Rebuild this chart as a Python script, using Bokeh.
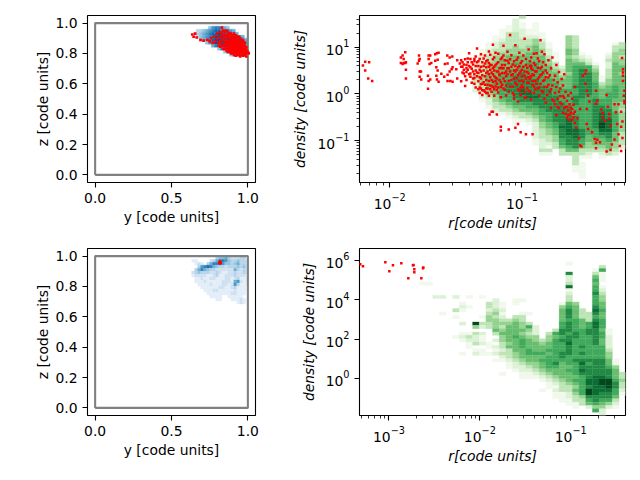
from bokeh.plotting import figure
from bokeh.layouts import column, row
from bokeh.models import FixedTicker, Range1d, ColumnDataSource
from bokeh.embed import file_html
from bokeh.resources import INLINE

GREENS = ["#f0f9ec", "#dcf2d6", "#bde5b6", "#94d390", "#68bd6f", "#40aa5d", "#228a44", "#0b6e33", "#00491d"]
BLUES = ["#e3eef9", "#cfe1f2", "#b5d4e9", "#93c4de", "#6aaed6", "#4a98c9", "#2e7ebc", "#1764ab", "#08468b"]
box_x = [0, 1, 1, 0, 0]
box_y = [0, 0, 1, 1, 0]

# top right histogram: (first bin, digit per bin), rows from high to low density
tr_rows = [
    (24, "3"), (23, "2"), (23, "21.1"), (22, "121.1"), (21, "112211"), (21, "1332111"),
    (20, "11332221...43"), (20, "12333342...43"), (19, "1233333431..43.....13"),
    (19, "1233434531..43.....33"), (18, "12334444542..54.....34"), (18, "123444455421.541...144"),
    (17, "1234455555531.4321..243"), (17, "1234555555541.5432..344"),
    (16, "11244556566543.55531.254"), (17, "2345555666553256663.255"),
    (17, "23455666666543" + "56764" + ".355"), (17, "23556667666553" + "46775" + ".354"),
    (16, "134556677766554" + "567751355"), (16, "134566677776655" + "567751455"),
    (17, "24566777776665" + "567763455"), (17, "23566777777665" + "577764565"),
    (17, "23456778777766" + "667765565"), (18, "2456678877766" + "667765665"),
    (18, "2346677887776" + "677665665"), (18, "1245667777776" + "676676655"),
    (19, "234566677777" + "676676654"), (19, "133455667777" + "766677654"),
    (20, "23345556777" + "766677753"), (20, "11233456677" + "766678764"),
    (22, "123345677" + "776678764"), (23, "11235677" + "876678864"),
    (23, "1.124567" + "876679864"), (26, "24568" + "876679864"),
    (26, "23457" + "887668864"), (26, "23457" + "887667753"),
    (26, "23347" + "787566753"), (26, "12346" + "776555653"),
    (26, "12236" + "776455543"), (27, "2135" + "675444542"),
    (27, "33.3" + "55333343"), (27, "11.3" + "3332.232"),
    (32, "311.1"), (32, "3"), (32, "31"), (32, "11"), (32, "11"), (33, "1"), (33, "1"),
]
tr_x0, tr_dx, tr_y_top, tr_dy = -2.229, 0.0503, 1.677, 0.0712

# bottom right histogram
br_rows = [
    (0, ""), (0, ""), (0, ""), (0, ""), (31, "1"),
    (36, "3"), (35, "16"), (31, "7...31"), (31, "2...51"), (31, "2...61"),
    (9, "11" + "." * 20 + "3...5"), (31, "8...61"), (31, "1...62"), (31, "2...73"),
    (11, "22.2.1.1" + "." * 12 + "3...64"), (20, "2..11......3...64"),
    (15, "1...321.1......154..65"), (15, "21..321........465..75"),
    (14, "31...232........5753.86"), (12, "1......341..11....5753375"),
    (14, "1...1432.33.....5753365"), (19, "443343" + "....." + "5665376"),
    (15, "2.933444543" + "...." + "6765686"), (17, "4234355462" + "..." + "6765686"),
    (20, "5455542" + ".." + "377667751"), (15, "1132.3555432.3" + "676767761"),
    (14, "12321..456544.4" + "567766762"), (15, "1221.245565434" + "677666752"),
    (16, "1321.34565545" + "668666752"), (16, "1..1235565555" + "667676662"),
    (17, "11.123556556" + "667666663"), (15, "1.211233456665" + "677676664"),
    (21, "23455556" + "676666664"), (20, "112345566" + "6667777751"),
    (22, "1234456" + "7566867751"), (22, "1223456" + "6556777764"),
    (23, "122345" + "5566877775"), (21, "1..11234" + "55567777753"),
    (24, "11123" + "45556788753"), (27, "12" + "34566889964"),
    (28, "1" + "23456889973"), (28, "1" + "13346788973"),
    (27, "1." + "23356988862"), (29, "11246987761"), (29, "1123477775"),
    (30, "113367663"), (31, "11356542"), (32, "1.24421"), (35, "62"), (36, "2"),
]
br_x0, br_dx, br_y_top, br_dy = -3.324, 0.0732, 6.595, 0.1695

# top left projection
tl_rows = [
    (5, "4677654"), (1, "3345678877765"), (0, "234567889988765"),
    (1, "3456789999988775"), (2, "3567899999988875"), (4, "46899999988886"),
    (6, "578999888876"), (8, "4778888876"), (10, "46777776"), (12, "456665"),
]
tl_x0, tl_dx, tl_y_top, tl_dy = 0.6425, 0.0197, 0.98, 0.0199

# bottom left projection
bl_rows = [
    (8, "3445322233"), (0, "11....2357764334332"), (1, "121.35778644345332"),
    (2, "36787543323334342"), (1, "357543322222253232"),
    (0, "2343332232112232232"), (0, "1222211231122232221"),
    (1, "112112211122123111"), (1, "111211111222156211"),
    (2, "11112111221263111"), (3, "111111221123111"),
    (4, "11122111112111"), (5, "1111111122111"), (6, "1111..11111"), (8, "11...11121"), (15, "121"),
]
bl_x0, bl_dx, bl_y_top, bl_dy = 0.632, 0.0197, 0.9995, 0.0197

# red points
tr_red = [
    (-2.203,.61),(-2.186,.69),(-2.156,.68),(-2.186,.50),(-2.163,.33),(-2.133,.28),
    (-1.916,.78),(-1.903,.82),(-1.895,.75),(-1.883,.89),(-1.916,.66),(-1.895,.66),(-1.883,.66),(-1.903,.64),(-1.878,.68),(-1.878,.52),(-1.878,.33),
    (-1.789,.65),(-1.779,.82),(-1.774,.75),(-1.779,.71),(-1.774,.48),(-1.764,.48),(-1.774,.37),(-1.762,.31),
    (-1.706,.82),(-1.694,.82),(-1.706,.75),(-1.686,.66),(-1.699,.64),(-1.711,.39),(-1.694,.31),(-1.706,.28),(-1.711,.11),
    (-1.656,.85),(-1.643,.87),(-1.631,.88),(-1.656,.71),(-1.638,.73),(-1.648,.57),(-1.638,.50),(-1.648,.39),(-1.631,.26),(-1.643,.31),
    (-1.565,.82),(-1.547,.78),(-1.583,.64),(-1.563,.65),(-1.527,.80),(-1.61,.43),(-1.547,.48),(-1.563,.41),(-1.588,.37),(-1.563,.28),(-1.542,.28),(-1.525,.26),(-1.525,.57),(-1.532,.53),(-1.497,.53),
    (-1.49,.72),(-1.47,.65),(-1.45,.58),(-1.44,.44),(-1.49,.33),(-1.46,.27),(-1.43,.17),(-1.42,.62),(-1.40,.87),(-1.41,.52),(-1.39,.37),(-1.38,.24),(-1.36,.70),(-1.36,.42),(-1.35,.14),(-1.34,.97),(-1.33,.60),(-1.32,.52),(-1.31,.33),(-1.31,.21),(-1.30,.08),
    (-1.29,.76),(-1.28,.65),(-1.27,.45),(-1.27,.12),(-1.26,.02),(-1.25,.91),(-1.25,.58),(-1.24,.36),(-1.23,.17),(-1.22,1.05),(-1.22,.74),(-1.21,.50),(-1.21,-.04),(-1.20,.27),(-1.19,.65),(-1.19,.09),(-1.18,.86),(-1.17,.42),(-1.16,.56),(-1.16,-.07),(-1.15,.20),(-1.15,.78),(-1.14,1.03),(-1.14,.33),(-1.13,.62),(-1.13,.09),(-1.12,.48),(-1.12,-.03),
    (-1.11,.90),(-1.11,.71),(-1.10,.28),(-1.10,.55),(-1.09,1.26),(-1.09,.16),(-1.08,.83),(-1.08,.40),(-1.07,.02),(-1.07,.63),(-1.06,.50),(-1.06,-.10),(-1.05,1.04),(-1.05,.24),(-1.04,.73),(-1.04,.34),(-1.03,.57),(-1.03,.10),(-1.02,.88),(-1.02,.44),(-1.01,.66),(-1.01,-.02),(-1.00,.29),(-1.00,.52),(-.99,.82),(-.99,.14),(-.98,1.18),(-.98,.39),(-.97,.62),(-.97,-.08),(-.96,.24),(-.96,.47),(-.95,.95),(-.95,.07),(-.94,.70),(-.94,.33),(-.93,.55),(-.93,-.12),(-.92,.19),(-.92,.42),(-.91,.86),(-.91,.02),(-.90,.62),(-.90,.28),(-.89,.48),(-.88,.12),(-.88,.76),(-.87,.36),(-.87,-.04),(-.86,.55),(-.86,.22),(-.85,.90),(-.85,.42),(-.84,.04),(-.84,.68),(-.83,.30),(-.82,.50),(-.82,-.18),(-.81,.15),
    (-1.22,-.38),(-1.245,-.44),(-1.23,-.38),(-1.19,-.44),(-1.16,-.70),(-1.16,-.78),(-1.10,-.76),(-1.05,-.72),(-1.03,-.64),(-1.01,-.82),(-.97,-.86),(-.92,-.86),(-1.06,-.02),(-1.03,-.16),(-1.02,.07),(-1.00,.18),(-.98,-.08),(-.95,.36),(-.93,.60),(-.91,.16),
    (-.86,1.15),(-.89,.87),(-.83,.85),(-.80,.72),(-.80,.35),(-.79,.05),(-.78,-.30),(-.78,.55),(-.77,.18),(-.77,.78),(-.76,-.15),(-.75,.39),(-.75,.02),(-.74,.62),(-.74,-.45),(-.73,.25),(-.73,-.10),(-.72,.47),(-.72,-.30),(-.71,.12),(-.71,-.05),(-.70,.32),(-.70,-.22),(-.69,.18),(-.69,-.40),(-.68,-.08),(-.68,.42),(-.67,-.28),(-.67,.05),(-.66,-.15),(-.66,-.50),(-.65,-.03),(-.65,-.35),(-.64,-.22),(-.64,-.45),(-.63,.02),(-.63,-.30),(-.62,-.10),(-.62,-.55),(-.61,-.42),(-.61,-.23),(-.60,.15),(-.60,-.62),(-.59,-.72),(-.58,-.52),(-.57,-.95),(-.56,-1.10),(-.55,-1.12),
    (-.515,.50),(-.52,.43),(-.52,.22),(-.54,.39),(-.51,.07),(-.44,.07),(-.50,-.04),(-.49,-.16),(-.51,-.32),(-.56,-.32),(-.44,-.21),(-.43,-.14),(-.51,-.64),(-.50,-.75),(-.47,-.82),(-.45,-.96),(-.44,-1.04),(-.43,-.98),(-.41,-1.03),(-.44,-1.16),(-.40,-.33),(-.39,-.41),(-.39,-.51),(-.37,-.57),(-.36,-.02),(-.35,-.27),(-.34,-.43),(-.34,-.53),(-.33,-.68),(-.32,-1.08),(-.36,-1.23),(-.33,-1.19),(-.30,-.22),(-.29,-.39),(-.28,-.64),(-.27,-.86),(-.26,-1.11),(-.25,-1.22),(-.24,-.94),(-.30,-.97),(-.27,-.22),(-.25,-.38),(-.243,.77),(-.236,.53),(-.236,.46),(-.236,.39),(-.236,.28),(-.225,.07),(-.23,-.04),(-.225,-.20),(-.225,-.15),(-.24,-.59),(-.25,-.70),
    # second reading of the crowded centre
    (-1.46,.58),(-1.45,.68),(-1.44,.52),(-1.43,.74),(-1.42,.47),(-1.42,.30),(-1.41,.68),(-1.40,.60),(-1.39,.44),(-1.39,.75),(-1.38,.54),(-1.37,.33),(-1.37,.63),(-1.36,.22),(-1.35,.50),(-1.35,.80),(-1.34,.38),(-1.34,.68),(-1.33,.27),(-1.33,.45),(-1.32,.75),(-1.32,.14),(-1.31,.58),(-1.31,.85),(-1.30,.40),(-1.30,.68),(-1.29,.25),(-1.29,.50),(-1.28,.82),(-1.28,.05),(-1.27,.57),(-1.27,.30),(-1.26,.72),(-1.26,.20),(-1.25,.42),(-1.25,.66),(-1.24,.10),(-1.24,.52),(-1.24,.84),(-1.23,.30),(-1.23,.62),(-1.22,.42),(-1.22,.15),(-1.21,.78),(-1.21,.58),(-1.20,.35),(-1.20,.88),(-1.19,.48),(-1.19,.22),(-1.18,.68),(-1.18,.03),(-1.17,.55),(-1.17,.30),(-1.16,.75),(-1.16,.15),(-1.15,.45),(-1.15,.62),(-1.14,.82),(-1.14,.55),(-1.13,.27),(-1.13,.72),(-1.12,.38),(-1.12,.18),(-1.11,.55),(-1.11,.42),(-1.10,.66),(-1.10,.05),(-1.09,.48),(-1.09,.74),(-1.08,.30),(-1.08,.58),(-1.07,.42),(-1.07,.16),(-1.06,.70),(-1.06,.33),(-1.05,.48),(-1.05,.60),(-1.04,.20),(-1.04,.52),(-1.03,.40),(-1.03,.78),(-1.02,.28),(-1.02,.60),(-1.01,.48),(-1.01,.14),(-1.00,.38),(-1.00,.70),(-.99,.58),(-.99,.26),(-.98,.48),(-.98,.04),(-.97,.33),(-.97,.75),(-.96,.56),(-.96,.13),(-.95,.44),(-.95,.24),(-.94,.60),(-.94,.05),(-.93,.38),(-.93,.78),(-.92,.52),(-.92,.28),(-.91,.66),(-.91,.40),(-.90,.10),(-.90,.48),(-.89,.22),(-.88,.56),(-.88,.32),(-.87,.70),(-.87,.14),(-.86,.40),(-.85,.06),(-.85,.58),(-.84,.28),(-.84,.46),(-.83,.15),(-.83,-.10),(-.82,.36),(-.82,.62),(-.81,-.02),(-.81,.45),(-.80,.20),(-.79,.40),(-.78,.10),(-.77,-.12),(-.76,.30),(-.75,-.22),(-.74,.15),(-.73,-.28),(-.72,.05),(-.71,-.18),(-.69,-.05),(-.68,-.30),(-.67,-.42),(-.66,-.28),(-.65,-.45),(-.64,-.55),(-.63,-.40),(-.62,-.32),(-.61,-.50),(-.60,-.38),
    # left cluster
    (-1.46,.72),(-1.45,.46),(-1.44,.63),(-1.43,.38),(-1.42,.55),(-1.41,.76),(-1.40,.42),(-1.39,.57),(-1.38,.68),(-1.37,.48),(-1.36,.75),(-1.36,.34),(-1.35,.60),(-1.34,.46),(-1.33,.70),(-1.33,.10),(-1.32,.36),(-1.32,.02),(-1.31,.48),(-1.31,.12),(-1.30,.22),(-1.30,-.02),(-1.29,.60),(-1.29,.08),(-1.28,.38),(-1.28,.20),(-1.27,.02),(-1.27,.70),(-1.26,.48),(-1.26,.12),(-1.25,.28),(-1.25,-.04),(-1.24,.62),(-1.24,.18),(-1.23,.46),(-1.23,.05),(-1.22,.26),(-1.22,.55),(-1.21,.10),(-1.21,.38),(-1.20,.16),(-1.20,.62),(-1.19,.33),(-1.18,.48),(-1.18,.14),(-1.17,.40),(-1.16,.25),(-1.15,.55),(-1.14,.12),(-1.13,.45),
]
br_red_logr = [-3.316, -3.286, -3.04, -2.996, -2.956, -2.864, -2.787, -2.736, -2.730, -2.721, -2.721, -2.644, -2.622, -2.626]
br_red_logd = [5.80, 5.69, 5.90, 5.44, 5.75, 5.85, 5.08, 5.75, 5.76, 5.54, 5.39, 5.08, 5.63, 5.59]
tl_red = [
    (.636,.925),(.645,.91),(.655,.93),(.665,.905),(.69,.89),(.71,.885),(.735,.89),(.75,.88),(.76,.90),(.77,.87),(.78,.91),(.785,.88),
    (.80,.93),(.80,.90),(.81,.87),(.81,.85),(.82,.94),(.82,.91),(.82,.88),(.82,.845),(.83,.97),(.83,.93),(.83,.90),(.83,.86),(.84,.95),(.84,.92),(.84,.89),(.84,.85),(.84,.83),(.85,.94),(.85,.91),(.85,.88),(.85,.86),(.85,.83),
    (.86,.95),(.86,.92),(.86,.89),(.86,.86),(.86,.84),(.86,.82),(.87,.94),(.87,.91),(.87,.88),(.87,.85),(.87,.83),(.87,.81),(.88,.93),(.88,.90),(.88,.87),(.88,.85),(.88,.83),(.88,.81),(.89,.93),(.89,.91),(.89,.88),(.89,.86),(.89,.84),(.89,.82),(.89,.80),
    (.90,.92),(.90,.90),(.90,.88),(.90,.86),(.90,.84),(.90,.82),(.90,.80),(.91,.93),(.91,.91),(.91,.89),(.91,.87),(.91,.85),(.91,.83),(.91,.81),(.91,.79),(.92,.92),(.92,.90),(.92,.88),(.92,.86),(.92,.84),(.92,.82),(.92,.80),(.92,.785),
    (.93,.91),(.93,.89),(.93,.87),(.93,.85),(.93,.83),(.93,.81),(.93,.79),(.94,.91),(.94,.89),(.94,.87),(.94,.85),(.94,.83),(.94,.81),(.94,.79),(.95,.90),(.95,.88),(.95,.86),(.95,.84),(.95,.82),(.95,.80),(.95,.78),
    (.96,.89),(.96,.87),(.96,.85),(.96,.83),(.96,.81),(.96,.79),(.97,.885),(.97,.86),(.97,.84),(.97,.82),(.97,.80),(.97,.785),(.98,.87),(.98,.85),(.98,.83),(.98,.81),(.98,.79),(.99,.84),(.99,.82),(.99,.80),(.99,.78),(1.0,.81),(1.005,.80),
    (.885,.895),(.875,.925),(.865,.875),(.895,.87),(.905,.895),(.915,.855),(.925,.875),(.935,.825),(.945,.845),(.955,.815),(.965,.835),(.975,.805),(.915,.815),(.905,.835),(.935,.795),(.945,.805),(.895,.825),(.885,.815),
]
bl_red_x = [.812, .818, .824, .812, .818, .824, .815, .821]
bl_red_y = [.953, .953, .953, .959, .959, .959, .965, .965]

TICK_PT = "13.9px"


def style(p):
    p.outline_line_color = "black"
    p.outline_line_width = 1.1
    p.grid.visible = False
    for ax in (p.xaxis[0], p.yaxis[0]):
        ax.axis_label_text_font = "DejaVu Sans"
        ax.axis_label_text_font_size = TICK_PT
        ax.axis_label_text_color = "black"
        ax.axis_label_text_font_style = "normal"
        ax.major_label_text_font = "DejaVu Sans"
        ax.major_label_text_font_size = TICK_PT
        ax.major_label_text_color = "black"
        ax.major_tick_line_color = "black"
        ax.major_tick_line_width = 1.1
        ax.major_tick_in = 0
        ax.major_tick_out = 5
        ax.minor_tick_line_color = "black"
        ax.minor_tick_line_width = 0.8
        ax.minor_tick_in = 0
        ax.minor_tick_out = 3
        ax.axis_line_color = None


def cells(rows, x0, dx, y_top, dy, palette, log):
    left, right, top, bottom, color = [], [], [], [], []
    for r, (start, digits) in enumerate(rows):
        for i, ch in enumerate(digits):
            if ch == ".":
                continue
            xa, xb = x0 + (start + i) * dx, x0 + (start + i + 1) * dx
            yb, ya = y_top - r * dy, y_top - (r + 1) * dy
            if log:
                xa, xb, ya, yb = 10 ** xa, 10 ** xb, 10 ** ya, 10 ** yb
            left.append(xa); right.append(xb); top.append(yb); bottom.append(ya)
            color.append(palette[int(ch) - 1])
    return ColumnDataSource(dict(left=left, right=right, top=top, bottom=bottom, color=color))


def projection(rows, grid, red_x, red_y, top_b, size):
    p = figure(frame_width=168, frame_height=167, output_backend="svg", toolbar_location=None,
               x_range=Range1d(-0.05, 1.05), y_range=Range1d(-0.05, 1.05),
               min_border_left=87, min_border_right=10, min_border_top=top_b, min_border_bottom=56)
    style(p)
    p.quad(left="left", right="right", top="top", bottom="bottom", fill_color="color", line_color="color",
           line_width=0.3, source=cells(rows, *grid, BLUES, False))
    p.line(box_x, box_y, line_color="gray", line_width=2.1)
    p.scatter(red_x, red_y, marker="square", size=size, fill_color="red", line_color=None)
    p.xaxis.axis_label = "y [code units]"
    p.yaxis.axis_label = "z [code units]"
    p.xaxis.axis_label_standoff = 3
    p.yaxis.axis_label_standoff = 1
    p.xaxis.ticker = FixedTicker(ticks=[0, 0.5, 1])
    p.yaxis.ticker = FixedTicker(ticks=[0, 0.2, 0.4, 0.6, 0.8, 1.0])
    p.xaxis.major_label_overrides = {0: "0.0", 0.5: "0.5", 1: "1.0"}
    p.yaxis.major_label_overrides = {0: "0.0", 1: "1.0"}
    return p


def decades(lo, hi):
    return [m * 10.0 ** e for e in range(lo, hi) for m in range(2, 10)]


def profile(xr, yr, rows, grid, red_x, red_y, top_b, xticks, yticks, yminor):
    p = figure(frame_width=266, frame_height=167, output_backend="svg", toolbar_location=None,
               x_axis_type="log", y_axis_type="log",
               x_range=Range1d(10 ** xr[0], 10 ** xr[1]), y_range=Range1d(10 ** yr[0], 10 ** yr[1]),
               min_border_left=94, min_border_right=7, min_border_top=top_b, min_border_bottom=56)
    style(p)
    p.quad(left="left", right="right", top="top", bottom="bottom", fill_color="color", line_color="color",
           line_width=0.3, source=cells(rows, *grid, GREENS, True))
    p.scatter(red_x, red_y, marker="square", size=2.5, fill_color="red", line_color=None)
    p.xaxis.axis_label = "r[code units]"
    p.yaxis.axis_label = "density [code units]"
    p.xaxis.axis_label_text_font_style = "italic"
    p.yaxis.axis_label_text_font_style = "italic"
    p.xaxis.axis_label_standoff = 3
    p.yaxis.axis_label_standoff = 6
    p.xaxis.ticker = FixedTicker(ticks=xticks, minor_ticks=decades(-4, 1))
    p.yaxis.ticker = FixedTicker(ticks=yticks, minor_ticks=yminor)
    return p


tl = projection(tl_rows, (tl_x0, tl_dx, tl_y_top, tl_dy),
                [a for a, _ in tl_red], [b for _, b in tl_red], 15, 2.7)
bl = projection(bl_rows, (bl_x0, bl_dx, bl_y_top, bl_dy), bl_red_x, bl_red_y, 10, 2)
tr = profile((-2.229, -0.217), (-1.891, 1.677), tr_rows, (tr_x0, tr_dx, tr_y_top, tr_dy),
             [10 ** a for a, _ in tr_red], [10 ** b for _, b in tr_red], 15,
             [0.01, 0.1], [0.1, 1, 10], decades(-2, 2))
br = profile((-3.324, -0.398), (-1.88, 6.595), br_rows, (br_x0, br_dx, br_y_top, br_dy),
             [10 ** a for a in br_red_logr], [10 ** b for b in br_red_logd], 10,
             [0.001, 0.01, 0.1], [1, 100, 10000, 1000000], [])

page = column(row(tl, tr, spacing=0), row(bl, br, spacing=0), spacing=0)
open("out.html", "w").write(file_html(page, INLINE))
